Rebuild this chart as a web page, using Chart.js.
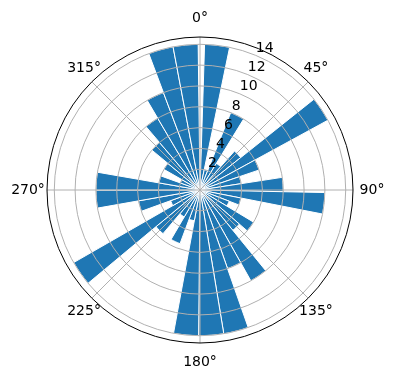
<!DOCTYPE html>
<html>
<head>
<meta charset="utf-8">
<script src="https://cdn.jsdelivr.net/npm/chart.js@4/dist/chart.umd.min.js"></script>
<style>
  html, body { margin: 0; padding: 0; background: #ffffff; }
  #wrap { width: 396px; height: 380px; }
</style>
</head>
<body>
<div id="wrap"><canvas id="rose"></canvas></div>
<script>
// Histogram bins (clockwise from north)
const binStart = 1.8;          // first bin edge, degrees
const binWidth = 9.93;         // degrees per bin
const counts = [
    14, 2, 8, 3, 5, 14, 6, 4, 8, 12,
    4, 3, 6, 5, 10, 8, 14, 14, 14, 3,
    5.5, 3, 5.5, 14, 3, 6, 10, 10, 4, 2,
    4, 6, 8, 10, 14, 14
];
const binLabels = counts.map((c, i) => (binStart + i * binWidth).toFixed(1));

// Axis ticks
const rMax = 14.7;
const rTicks = [2, 4, 6, 8, 10, 12, 14];
const thetaTicks = [0, 45, 90, 135, 180, 225, 270, 315];
const thetaLabels = thetaTicks.map(t => t + '°');

const colors = {
    bar: '#1f77b4',
    edge: '#ffffff',
    grid: '#b0b0b0',
    spine: '#000000',
    text: '#000000'
};
const font = '14px "DejaVu Sans", sans-serif';

// Angle grid lines, outer circle and tick labels (matplotlib-like)
const polarDecor = {
    id: 'polarDecor',
    afterDraw(chart) {
        const scale = chart.scales.r;
        const ctx = chart.ctx;
        const cx = scale.xCenter;
        const cy = scale.yCenter;
        const outer = scale.getDistanceFromCenterForValue(rMax);

        ctx.save();
        ctx.strokeStyle = colors.grid;
        ctx.lineWidth = 1;
        thetaTicks.forEach(t => {
            const a = t * Math.PI / 180;
            ctx.beginPath();
            ctx.moveTo(cx, cy);
            ctx.lineTo(cx + outer * Math.sin(a), cy - outer * Math.cos(a));
            ctx.stroke();
        });

        ctx.strokeStyle = colors.spine;
        ctx.lineWidth = 1;
        ctx.beginPath();
        ctx.arc(cx, cy, outer, 0, Math.PI * 2);
        ctx.stroke();

        ctx.fillStyle = colors.text;
        ctx.font = font;

        // theta labels, diagonal ones sit a little closer in x
        ctx.textAlign = 'center';
        ctx.textBaseline = 'middle';
        thetaTicks.forEach((t, i) => {
            const a = t * Math.PI / 180;
            const dy = outer + 19;
            const dx = dy - 8 * Math.abs(Math.sin(2 * a));
            ctx.fillText(thetaLabels[i], cx + dx * Math.sin(a), cy - dy * Math.cos(a));
        });

        // radial labels along 22.5 degrees
        const la = 22.5 * Math.PI / 180;
        ctx.textAlign = 'left';
        ctx.textBaseline = 'bottom';
        rTicks.forEach(v => {
            const d = scale.getDistanceFromCenterForValue(v);
            ctx.fillText(String(v), cx + d * Math.sin(la), cy - d * Math.cos(la));
        });
        ctx.restore();
    }
};

new Chart(document.getElementById('rose'), {
    type: 'polarArea',
    data: {
        labels: binLabels,
        datasets: [{
            data: counts,
            backgroundColor: colors.bar,
            borderColor: colors.edge,
            borderWidth: 1,
            angle: ctx => binWidth
        }]
    },
    options: {
        responsive: true,
        maintainAspectRatio: false,
        animation: false,
        layout: {
            padding: { left: 47, right: 42, top: 37, bottom: 36 }
        },
        plugins: {
            legend: { display: false },
            tooltip: { enabled: false }
        },
        scales: {
            r: {
                min: 0,
                max: rMax,
                startAngle: binStart,
                ticks: {
                    display: false,
                    stepSize: 2,
                    includeBounds: false
                },
                grid: {
                    color: colors.grid,
                    lineWidth: 1,
                    z: 1
                },
                angleLines: { display: false },
                pointLabels: { display: false }
            }
        }
    },
    plugins: [polarDecor]
});
</script>
</body>
</html>
